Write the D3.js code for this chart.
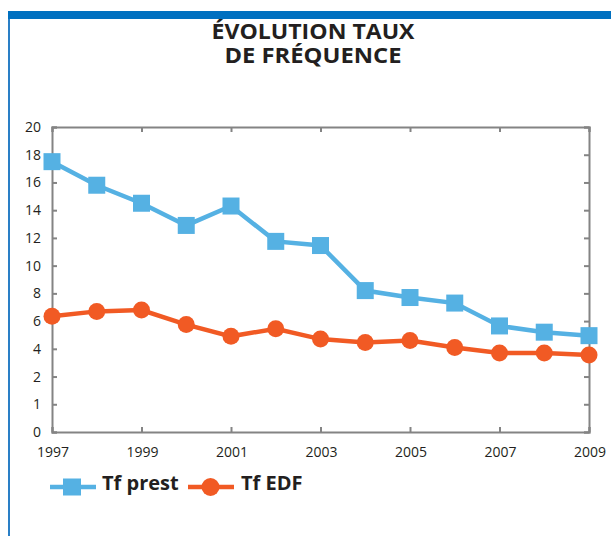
<!DOCTYPE html>
<html>
<head>
<meta charset="utf-8">
<script src="https://cdn.jsdelivr.net/npm/d3@7"></script>
<style>
  body { margin: 0; background: #fff; }
  svg { display: block; }
  text { font-family: "Open Sans", "Noto Sans", sans-serif; fill: #231f20; }
</style>
</head>
<body>
<div id="chart"></div>
<script>
// chart data
var years = [1997, 1998, 1999, 2000, 2001, 2002, 2003, 2004, 2005, 2006, 2007, 2008, 2009];
var tfPrest = [17.5, 15.8, 14.5, 12.9, 14.3, 11.75, 11.45, 8.2, 7.7, 7.3, 5.65, 5.2, 4.95];
var tfEdf = [6.35, 6.7, 6.8, 5.75, 4.9, 5.45, 4.7, 4.45, 4.6, 4.1, 3.7, 3.7, 3.55];
var yTickLabels = [0, 1, 2, 4, 6, 8, 10, 12, 14, 16, 18, 20];
var xTickLabels = [1997, 1999, 2001, 2003, 2005, 2007, 2009];
var titleLines = ["ÉVOLUTION TAUX", "DE FRÉQUENCE"];
var seriesNames = ["Tf prest", "Tf EDF"];

var W = 611, H = 536;
var plotL = 52, plotR = 589, plotT = 127, plotB = 432;
var blue = "#55b1e3", red = "#f15a24", axisGray = "#848484";

var svg = d3.select("#chart").append("svg")
    .attr("width", W).attr("height", H);

// frame
svg.append("rect").attr("x", 8).attr("y", 11).attr("width", W - 8).attr("height", 8).attr("fill", "#0070c0");
svg.append("rect").attr("x", 8).attr("y", 19).attr("width", 2).attr("height", H - 19).attr("fill", "#2a7fc6");

// title
svg.selectAll(".title").data(titleLines).enter().append("text")
    .attr("class", "title")
    .attr("x", 313)
    .attr("y", function (d, i) { return 39 + i * 24; })
    .attr("text-anchor", "middle")
    .attr("font-size", 21)
    .attr("font-weight", "bold")
    .attr("textLength", function (d, i) { return i === 0 ? 203 : 177; })
    .attr("lengthAdjust", "spacingAndGlyphs")
    .text(function (d) { return d; });

// scales (tick labels are evenly spaced on the source chart)
var x = d3.scaleLinear().domain([1997, 2009]).range([plotL, plotR]);
var y = d3.scaleLinear()
    .domain(yTickLabels)
    .range(yTickLabels.map(function (d, i) {
        return plotB - i * (plotB - plotT) / (yTickLabels.length - 1);
    }));

// plot frame with inward ticks
var g = svg.append("g");
g.append("g").attr("transform", "translate(0," + plotB + ")")
    .call(d3.axisTop(x).tickValues(xTickLabels).tickSize(5).tickFormat(""));
g.append("g").attr("transform", "translate(0," + plotT + ")")
    .call(d3.axisBottom(x).tickValues(xTickLabels).tickSize(5).tickFormat(""));
g.append("g").attr("transform", "translate(" + plotL + ",0)")
    .call(d3.axisRight(y).tickValues(yTickLabels).tickSize(5).tickFormat(""));
g.append("g").attr("transform", "translate(" + plotR + ",0)")
    .call(d3.axisLeft(y).tickValues(yTickLabels).tickSize(5).tickFormat(""));
g.selectAll("path.domain").attr("stroke", axisGray).attr("stroke-width", 2);
g.selectAll(".tick line").attr("stroke", axisGray).attr("stroke-width", 2);

// tick labels
svg.selectAll(".ylab").data(yTickLabels).enter().append("text")
    .attr("class", "ylab")
    .attr("x", 41).attr("y", function (d) { return y(d) + 5; })
    .attr("text-anchor", "end").attr("font-size", 14)
    .text(function (d) { return d; });
svg.selectAll(".xlab").data(xTickLabels).enter().append("text")
    .attr("class", "xlab")
    .attr("x", function (d) { return x(d) + 1; }).attr("y", 457)
    .attr("text-anchor", "middle").attr("font-size", 14)
    .text(function (d) { return d; });

// lines
var line = d3.line()
    .x(function (d, i) { return x(years[i]); })
    .y(function (d) { return y(d); });

svg.append("path").datum(tfPrest).attr("d", line)
    .attr("fill", "none").attr("stroke", blue).attr("stroke-width", 4.5);
svg.append("path").datum(tfEdf).attr("d", line)
    .attr("fill", "none").attr("stroke", red).attr("stroke-width", 4.5);

svg.selectAll(".sq").data(tfPrest).enter().append("rect")
    .attr("class", "sq")
    .attr("x", function (d, i) { return x(years[i]) - 8.5; })
    .attr("y", function (d) { return y(d) - 8.5; })
    .attr("width", 17).attr("height", 17).attr("fill", blue);
svg.selectAll(".dot").data(tfEdf).enter().append("circle")
    .attr("class", "dot")
    .attr("cx", function (d, i) { return x(years[i]); })
    .attr("cy", function (d) { return y(d); })
    .attr("r", 8.5).attr("fill", red);

// legend
var lg = svg.append("g").attr("transform", "translate(0,487)");
lg.append("line").attr("x1", 50).attr("x2", 96).attr("stroke", blue).attr("stroke-width", 4.5);
lg.append("rect").attr("x", 63).attr("y", -8.5).attr("width", 18).attr("height", 17).attr("fill", blue);
lg.append("text").attr("x", 102).attr("y", 3).attr("font-size", 20).attr("font-weight", "bold")
    .text(seriesNames[0]);
lg.append("line").attr("x1", 188).attr("x2", 234).attr("stroke", red).attr("stroke-width", 4.5);
lg.append("circle").attr("cx", 210.5).attr("cy", 0).attr("r", 9).attr("fill", red);
lg.append("text").attr("x", 241).attr("y", 3).attr("font-size", 20).attr("font-weight", "bold")
    .text(seriesNames[1]);
</script>
</body>
</html>
